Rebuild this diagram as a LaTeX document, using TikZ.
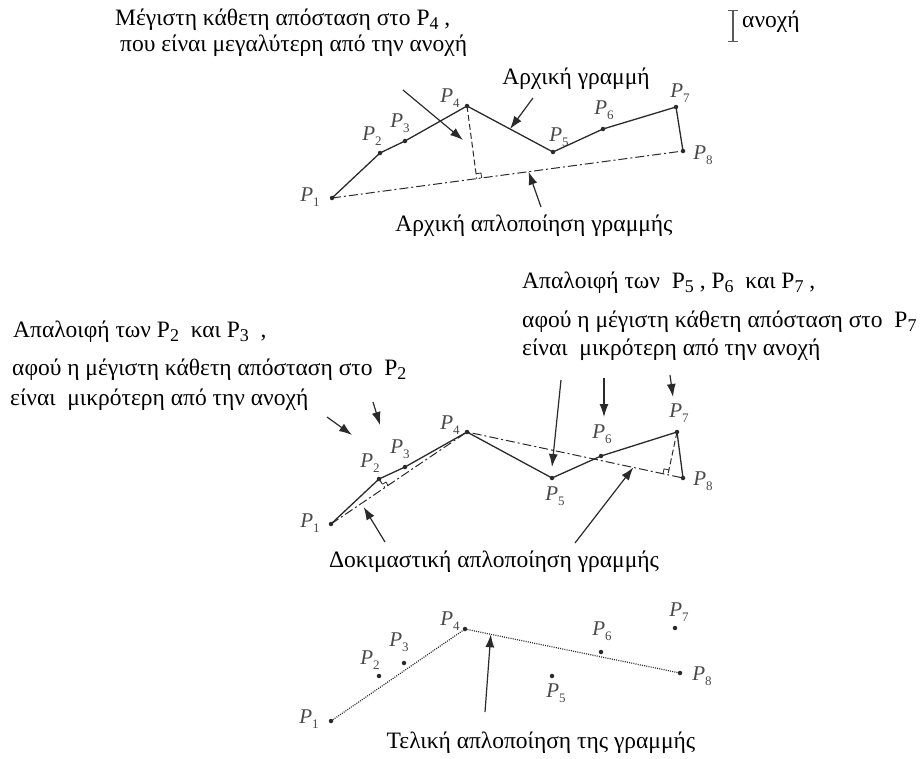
\documentclass[tikz,border=0pt]{standalone}
\usepackage{fontspec}
\setmainfont{Liberation Serif}
\usetikzlibrary{arrows.meta,calc}
\definecolor{lnink}{HTML}{2A2A2A}
\definecolor{lnlab}{HTML}{4A4A4A}
\tikzset{
  pt/.style={circle, fill=lnink, inner sep=0pt, minimum size=4.5pt},
  lab/.style={font=\fontsize{21}{21}\selectfont\itshape, inner sep=0pt, text=lnlab},
  txt/.style={font=\fontsize{23.5}{26}\selectfont, inner sep=0pt, anchor=west},
  ctxt/.style={font=\fontsize{23.5}{26}\selectfont, inner sep=0pt},
  poly/.style={lnink, line width=1.3pt},
  chord/.style={lnink, line width=1pt, dash pattern=on 9pt off 3pt on 2pt off 3pt},
  perp/.style={lnink, line width=1pt, dash pattern=on 6pt off 3pt},
  fin/.style={lnink, line width=1.2pt, dash pattern=on 1pt off 1.2pt},
  rmark/.style={lnink, line width=0.8pt},
  arr/.style={-{Latex[length=13pt,width=9pt]}, line width=1.2pt, color=lnink},
  tol/.style={{Bar[width=10pt]}-{Bar[width=10pt]}, line width=1.2pt, color=black!65},
}
% P label in the drawings / P in the texts
\newcommand{\Pl}[1]{P\raisebox{-0.5ex}{\upshape\fontsize{13}{13}\selectfont #1}}
\newcommand{\Ps}[1]{P\raisebox{-0.35ex}{\fontsize{18}{18}\selectfont #1}}

\begin{document}
\begin{tikzpicture}[x=1pt, y=-1pt]
  \useasboundingbox (0,0) rectangle (921,758);

  % ---- top: original line
  \foreach \n/\x/\y/\lx/\ly in {1/332/198/310/197, 2/380/153/372/136, 3/405/141/400/123,
      4/467/106/450/98, 5/553/152/559/137, 6/603/129/604/110, 7/676/107/680/93, 8/683/151/703/155}
    {\node[pt] (t\n) at (\x,\y) {}; \node[lab] (tl\n) at (\lx,\ly) {\Pl{\n}};}
  \draw[poly] (t1.center) \foreach \n in {2,...,8} {-- (t\n.center)};
  \draw[chord] (t1.center) -- (t8.center);
  \coordinate (tf) at ($(t1)!(t4)!(t8)$);
  \draw[perp] (t4.center) -- (tf);
  \coordinate (tfa) at ($(tf)!5pt!(t8)$);
  \coordinate (tfb) at ($(tf)!5pt!(t4)$);
  \draw[rmark] (tfa) -- ($(tfa)+(tfb)-(tf)$) -- (tfb);

  \node[txt] (mx1) at (115,20) {Μέγιστη κάθετη απόσταση στο \Ps{4} ,};
  \node[txt] (mx2) at (120,46) {που είναι μεγαλύτερη από την ανοχή};
  \coordinate (tbar1) at (733,10);
  \coordinate (tbar2) at (733,42);
  \draw[tol] (tbar1) -- (tbar2);
  \node[txt] (tolx) at (742,22) {ανοχή};
  \node[ctxt] (orig) at (576,79) {Αρχική γραμμή};
  \node[ctxt] (origs) at (534,226) {Αρχική απλοποίηση γραμμής};

  \coordinate (ta1) at (403,90);
  \coordinate (ta2) at (533,98);
  \coordinate (ta3) at (541,207);
  \draw[arr] (ta1) -- (463,140);
  \draw[arr] (ta2) -- ($(t4)!0.5!(t5)$);
  \draw[arr] (ta3) -- ($(t1)!0.56!(t8)$);

  % ---- middle: trial simplification
  \foreach \n/\x/\y/\lx/\ly in {1/331/524/310/523, 2/379/479/370/463, 3/405/467/400/449,
      4/467/432/450/425, 5/552/478/555/496, 6/601/456/602/434, 7/677/432/679/413, 8/683/478/703/481}
    {\node[pt] (m\n) at (\x,\y) {}; \node[lab] (ml\n) at (\lx,\ly) {\Pl{\n}};}
  \draw[poly] (m1.center) \foreach \n in {2,...,8} {-- (m\n.center)};
  \draw[chord] (m1.center) -- (m4.center) -- (m8.center);
  \coordinate (mf2) at ($(m1)!(m2)!(m4)$);
  \coordinate (mf7) at ($(m4)!(m7)!(m8)$);
  \draw[perp] (m2.center) -- (mf2);
  \draw[perp] (m7.center) -- (mf7);
  \coordinate (mfa) at ($(mf7)!5pt!(m4)$);
  \coordinate (mfb) at ($(mf7)!5pt!(m7)$);
  \draw[rmark] (mfa) -- ($(mfa)+(mfb)-(mf7)$) -- (mfb);
  \coordinate (mfc) at ($(mf2)!4pt!(m4)$);
  \coordinate (mfd) at ($(mf2)!4pt!(m2)$);
  \draw[rmark] (mfc) -- ($(mfc)+(mfd)-(mf2)$) -- (mfd);

  \node[txt] (lx1) at (13,332) {Απαλοιφή των \Ps{2}\ \ και \Ps{3}\ \ ,};
  \node[txt] (lx2) at (12,370) {αφού η μέγιστη κάθετη απόσταση στο \ \Ps{2}};
  \node[txt] (lx3) at (10,400) {είναι \ μικρότερη από την ανοχή};
  \node[txt] (rx1) at (522,283) {Απαλοιφή των \ \Ps{5} , \Ps{6} \ και \Ps{7} ,};
  \node[txt] (rx2) at (522,322) {αφού η μέγιστη κάθετη απόσταση στο \ \Ps{7}};
  \node[txt] (rx3) at (522,350) {είναι \ μικρότερη από την ανοχή};
  \node[ctxt] (trial) at (494,562) {Δοκιμαστική απλοποίηση γραμμής};

  \coordinate (ma1) at (327,417);
  \coordinate (ma2) at (373,402);
  \coordinate (ma3) at (561,380);
  \coordinate (ma4) at (604,378);
  \coordinate (ma5) at (670,375);
  \coordinate (ma6) at (385,542);
  \coordinate (ma7) at (575,543);
  \draw[arr] (ma1) -- (352,435);
  \draw[arr] (ma2) -- (380,425);
  \draw[arr] (ma3) -- (552,467);
  \draw[arr] (ma4) -- (604,417);
  \draw[arr] (ma5) -- (673,397);
  \draw[arr] (ma6) -- ($(m1)!0.24!(m4)+(0,5)$);
  \draw[arr] (ma7) -- ($(m4)!0.77!(m8)$);

  % ---- bottom: final simplification
  \foreach \n/\x/\y/\lx/\ly in {1/331/721/309/719, 2/379/676/370/660, 3/404/663/399/642,
      4/465/629/450/621, 5/552/676/556/693, 6/601/652/602/631, 7/675/628/679/612, 8/680/673/702/676}
    {\node[pt] (b\n) at (\x,\y) {}; \node[lab] (bl\n) at (\lx,\ly) {\Pl{\n}};}
  \draw[fin] (b1.center) -- (b4.center) -- (b8.center);
  \node[ctxt] (final) at (541,743) {Τελική απλοποίηση της γραμμής};
  \coordinate (ba1) at (485,712);
  \draw[arr] (ba1) -- ($(b4)!0.12!(b8)$);
\end{tikzpicture}
\end{document}
